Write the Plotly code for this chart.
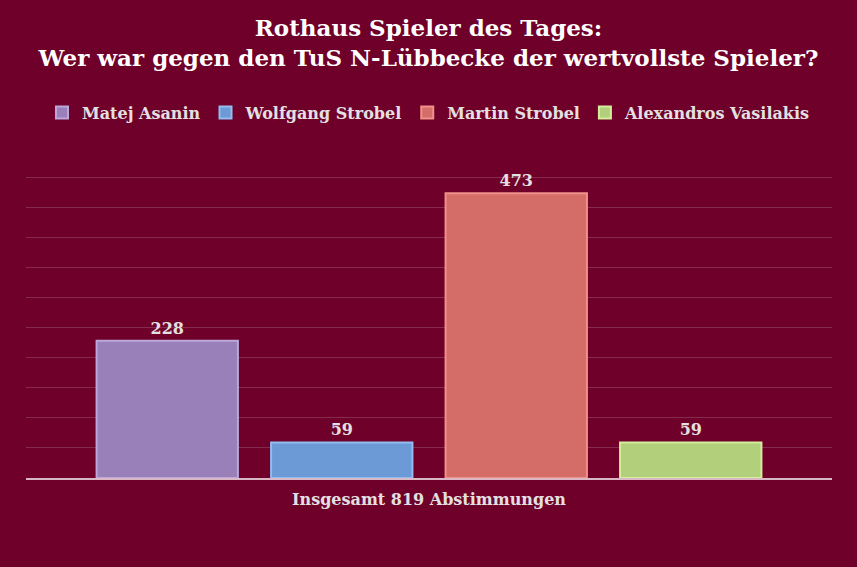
import plotly.graph_objects as go

# Abstimmung: Rothaus Spieler des Tages
category = ["Insgesamt 819 Abstimmungen"]
players = ["Matej Asanin", "Wolfgang Strobel", "Martin Strobel", "Alexandros Vasilakis"]
votes = [228, 59, 473, 59]
colors = ["#9a80b9", "#6c9ad6", "#d46c68", "#b2cf7b"]
edge_colors = ["#bca6da", "#93bdf0", "#f0928a", "#d4ee9c"]

bg = "#6e0029"
txt = "#e4e0e2"
font_name = "DejaVu Serif, serif"

fig = go.Figure()
for i in range(len(players)):
    fig.add_trace(go.Bar(
        x=category,
        y=[votes[i]],
        name=players[i],
        marker=dict(color=colors[i], line=dict(color=edge_colors[i], width=2)),
        text=[str(votes[i])],
        textposition="outside",
        textfont=dict(color=txt, size=16, family=font_name, weight="bold"),
        cliponaxis=False,
    ))

fig.update_layout(
    width=857, height=567,
    paper_bgcolor=bg, plot_bgcolor=bg,
    margin=dict(l=26, r=25, t=171, b=89),
    barmode="group", bargap=0.134, bargroupgap=0.19,
    title=dict(
        text="<b>Rothaus Spieler des Tages:<br>Wer war gegen den TuS N-Lübbecke der wertvollste Spieler?</b>",
        x=0.5, xanchor="center", y=0.937, yanchor="middle",
        font=dict(color="#ffffff", size=23, family=font_name),
    ),
    legend=dict(
        orientation="h", x=0.5, xanchor="center", y=1.19, yanchor="middle",
        font=dict(color=txt, size=16, family=font_name, weight="bold"),
        bgcolor="rgba(0,0,0,0)", traceorder="normal",
        itemwidth=30,
    ),
    font=dict(family=font_name, color=txt),
    showlegend=True,
)
fig.update_xaxes(
    showline=True, linecolor="#d9b7c4", linewidth=2,
    tickfont=dict(color=txt, size=16, family=font_name, weight="bold"),
    ticks="", showgrid=False, ticklabelstandoff=6,
)
fig.update_yaxes(
    range=[0, 510], tickmode="linear", tick0=0, dtick=50, showticklabels=False,
    gridcolor="rgba(255,255,255,0.17)", gridwidth=1, zeroline=False,
)

fig.write_html("out.html", config={"displayModeBar": False},
               post_script="document.body.style.margin='0';")
